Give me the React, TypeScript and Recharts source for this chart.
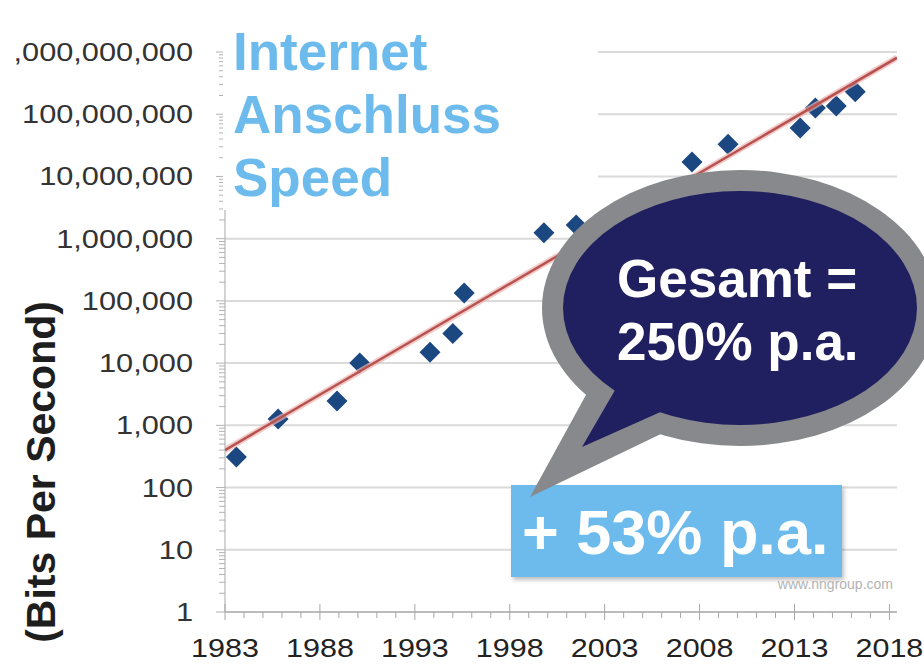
import React from 'react';
import { ComposedChart, Scatter, XAxis, YAxis, ReferenceLine } from 'recharts';

// measured points (year, bits per second)
const years = [1983.6, 1985.8, 1988.9, 1990.1, 1993.8, 1995.0, 1995.6, 1999.8, 2001.5, 2007.6, 2009.5, 2013.3, 2014.1, 2015.2, 2016.2];
const speeds = [310, 1260, 2450, 10000, 15000, 30000, 134000, 1240000, 1660000, 17000000, 33000000, 60000000, 126000000, 136000000, 229000000];

// trend line end points
const trendYears = [1983, 2018.4];
const trendSpeeds = [400, 810000000];

const yearLabels = [1983, 1988, 1993, 1998, 2003, 2008, 2013, 2018];
const decades = [1, 10, 100, 1000, 10000, 100000, 1000000, 10000000, 100000000, 1000000000];

const yearTicks = Array.from({ length: 36 }, (_, i) => 1983 + i);
const logTicks = decades.flatMap((d) => (d === 1000000000 ? [d] : [1, 2, 3, 4, 5, 6, 7, 8, 9].map((m) => m * d)));

const points = years.map((year, i) => ({ year, bps: speeds[i] }));
const trend = trendYears.map((year, i) => ({ year, bps: trendSpeeds[i] }));

const FONT = '"Liberation Sans", Arial, Helvetica, sans-serif';
const NAVY = '#201f5f';
const GRAY = '#87898c';
const LIGHT_BLUE = '#6cbbec';

const fmt = (v: number) => v.toLocaleString('en-US');

const YTick: React.FC<any> = ({ x, y, payload }) => {
    const v = payload.value;
    const major = decades.includes(v);
    return (
        <g>
            <line x1={major ? x - 9 : x - 6} x2={x} y1={y} y2={y} stroke="#b3b3b3" strokeWidth={1} />
            {major && (
                <text
                    transform={`translate(${x - 32},${y}) scale(1.23,1)`}
                    textAnchor="end"
                    dy="0.36em"
                    fontSize={25}
                    fontFamily={FONT}
                    fill="#333"
                >
                    {fmt(v)}
                </text>
            )}
        </g>
    );
};

const XTick: React.FC<any> = ({ x, y, payload }) => {
    const v = payload.value;
    const major = yearLabels.includes(v);
    return (
        <g>
            <line x1={x} x2={x} y1={major ? y - 8 : y} y2={major ? y + 8 : y + 6} stroke="#a6a6a6" strokeWidth={1} />
            {major && (
                <text
                    transform={`translate(${x},${y + 45}) scale(1.22,1)`}
                    textAnchor="middle"
                    fontSize={25}
                    fontFamily={FONT}
                    fill="#222"
                >
                    {v}
                </text>
            )}
        </g>
    );
};

const Diamond: React.FC<any> = ({ cx, cy }) => {
    const r = 10.5;
    return <polygon points={`${cx},${cy - r} ${cx + r},${cy} ${cx},${cy + r} ${cx - r},${cy}`} fill="#1c4882" />;
};

export default function App() {
    return (
        <div style={{ position: 'absolute', left: 0, top: 0, width: 924, height: 670, background: '#fff', overflow: 'hidden', fontFamily: FONT }}>
            <div style={{ position: 'absolute', left: 15, top: 0, width: 909, height: 670, overflow: 'hidden' }}>
                <ComposedChart width={909} height={670} margin={{ top: 52, right: 27, bottom: 0, left: 0 }}>
                    <XAxis
                        type="number"
                        dataKey="year"
                        domain={[1983, 2018.4]}
                        ticks={yearTicks}
                        interval={0}
                        allowDataOverflow
                        height={58}
                        tickSize={0}
                        tickMargin={0}
                        tickLine={false}
                        axisLine={{ stroke: '#a6a6a6', strokeWidth: 1.5 }}
                        tick={(p: any) => <XTick {...p} />}
                    />
                    <YAxis
                        type="number"
                        dataKey="bps"
                        scale="log"
                        domain={[1, 1000000000]}
                        ticks={logTicks}
                        interval={0}
                        allowDataOverflow
                        width={210}
                        tickSize={0}
                        tickMargin={0}
                        tickLine={false}
                        axisLine={{ stroke: '#c4c4c4', strokeWidth: 1.5 }}
                        tick={(p: any) => <YTick {...p} />}
                    />
                    {decades.slice(1).map((d) => (
                        <ReferenceLine key={d} y={d} stroke="#dadada" strokeWidth={2} />
                    ))}
                    <Scatter data={points} shape={(p: any) => <Diamond {...p} />} isAnimationActive={false} />
                    {/* soft halo under the trend line */}
                    <Scatter
                        data={trend}
                        line={{ stroke: '#e9b4b1', strokeWidth: 6, strokeOpacity: 0.7 }}
                        shape={() => <g />}
                        isAnimationActive={false}
                    />
                    <Scatter
                        data={trend}
                        line={{ stroke: '#b9524f', strokeWidth: 2.5 }}
                        shape={() => <g />}
                        isAnimationActive={false}
                    />
                </ComposedChart>
            </div>

            {/* title over a white patch */}
            <div
                style={{
                    position: 'absolute', left: 223, top: 20, width: 375, height: 190, background: '#fff',
                    paddingLeft: 10, boxSizing: 'border-box', color: LIGHT_BLUE, fontWeight: 'bold', fontSize: 53, lineHeight: '63px',
                }}
            >
                Internet<br />Anschluss<br />Speed
            </div>

            <div
                style={{
                    position: 'absolute', left: 511, top: 485, width: 331, height: 92, background: LIGHT_BLUE,
                    boxShadow: '2px 3px 4px rgba(0,0,0,0.25)', color: '#fff', fontWeight: 'bold', fontSize: 63,
                    lineHeight: '94px', paddingLeft: 11, boxSizing: 'border-box', whiteSpace: 'nowrap',
                }}
            >
                + 53% p.a.
            </div>

            <svg width={924} height={670} style={{ position: 'absolute', left: 0, top: 0 }}>
                <text
                    transform="translate(55,472) rotate(-90)"
                    textAnchor="middle"
                    fontSize={41}
                    fontWeight="bold"
                    fontFamily={FONT}
                    fill="#1e1e1e"
                >
                    (Bits Per Second)
                </text>
                <text x={893} y={589} textAnchor="end" fontSize={14} fontFamily={FONT} fill="#b3b3b3">
                    www.nngroup.com
                </text>
                <ellipse cx={740} cy={308} rx={198} ry={138} fill={GRAY} />
                <polygon points="587,393 530,497 665,432" fill={GRAY} />
                <ellipse cx={740} cy={308} rx={177} ry={117} fill={NAVY} />
                <polygon points="618,385 582,447 665,410" fill={NAVY} />
                <text x={617} y={297} fontSize={53} fontWeight="bold" fontFamily={FONT} fill="#fff">
                    Gesamt =
                </text>
                <text x={617} y={360} fontSize={53} fontWeight="bold" fontFamily={FONT} fill="#fff">
                    250% p.a.
                </text>
            </svg>
        </div>
    );
}
